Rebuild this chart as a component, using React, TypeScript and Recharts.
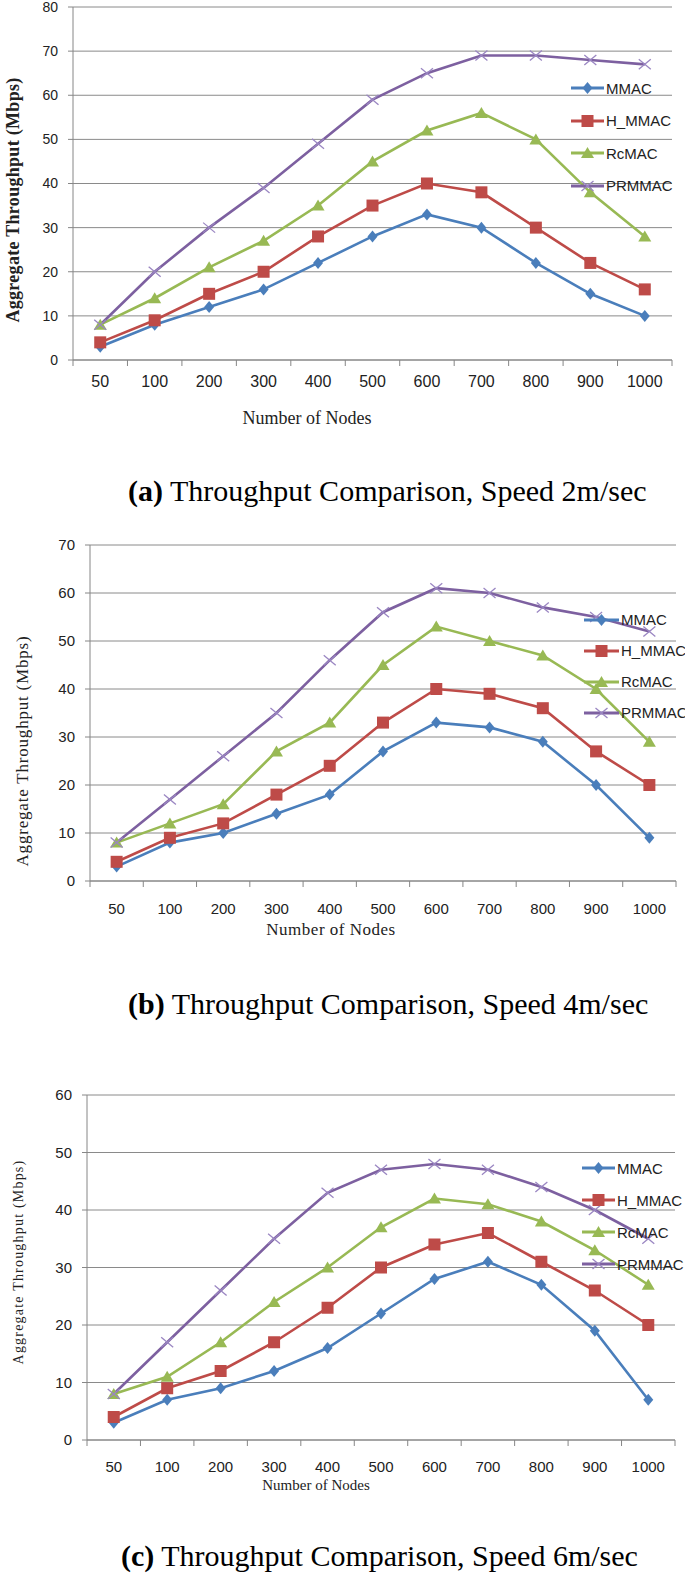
import React from 'react';
import { LineChart, Line, XAxis, YAxis, CartesianGrid } from 'recharts';

const NODES = ['50', '100', '200', '300', '400', '500', '600', '700', '800', '900', '1000'];
const SERIES = ['MMAC', 'H_MMAC', 'RcMAC', 'PRMMAC'];
const COLORS = ['#4A7EBB', '#BE4B48', '#98B954', '#7D60A0'];
const SHAPES = ['diamond', 'square', 'triangle', 'cross'];

// (a) speed 2 m/sec
const A_MMAC = [3, 8, 12, 16, 22, 28, 33, 30, 22, 15, 10];
const A_HMMAC = [4, 9, 15, 20, 28, 35, 40, 38, 30, 22, 16];
const A_RCMAC = [8, 14, 21, 27, 35, 45, 52, 56, 50, 38, 28];
const A_PRMMAC = [8, 20, 30, 39, 49, 59, 65, 69, 69, 68, 67];

// (b) speed 4 m/sec
const B_MMAC = [3, 8, 10, 14, 18, 27, 33, 32, 29, 20, 9];
const B_HMMAC = [4, 9, 12, 18, 24, 33, 40, 39, 36, 27, 20];
const B_RCMAC = [8, 12, 16, 27, 33, 45, 53, 50, 47, 40, 29];
const B_PRMMAC = [8, 17, 26, 35, 46, 56, 61, 60, 57, 55, 52];

// (c) speed 6 m/sec
const C_MMAC = [3, 7, 9, 12, 16, 22, 28, 31, 27, 19, 7];
const C_HMMAC = [4, 9, 12, 17, 23, 30, 34, 36, 31, 26, 20];
const C_RCMAC = [8, 11, 17, 24, 30, 37, 42, 41, 38, 33, 27];
const C_PRMMAC = [8, 17, 26, 35, 43, 47, 48, 47, 44, 40, 35];

const Y_TICKS_A = [0, 10, 20, 30, 40, 50, 60, 70, 80];
const Y_TICKS_B = [0, 10, 20, 30, 40, 50, 60, 70];
const Y_TICKS_C = [0, 10, 20, 30, 40, 50, 60];

const SANS = '"Liberation Sans", Arial, sans-serif';
const SERIF = '"Liberation Serif", "Times New Roman", serif';
const AXIS = '#868686';
const GRID = '#8a8a8a';

// category boundaries get tick marks, category centres get labels
const X_TICKS = NODES.flatMap((_, i) => [i, i + 0.5]).concat(NODES.length);

function buildRows(values: number[][]) {
  return NODES.map((node, i) => {
    const row: Record<string, number | string> = { pos: i + 0.5, node };
    SERIES.forEach((s, k) => {
      row[s] = values[k][i];
    });
    return row;
  });
}

function Marker({ shape, cx, cy, color }: { shape: string; cx: number; cy: number; color: string }) {
  if (shape === 'diamond')
    return <polygon points={`${cx},${cy - 6} ${cx + 5},${cy} ${cx},${cy + 6} ${cx - 5},${cy}`} fill={color} />;
  if (shape === 'square') return <rect x={cx - 6} y={cy - 6} width={12} height={12} fill={color} />;
  if (shape === 'triangle')
    return <polygon points={`${cx},${cy - 6} ${cx + 6.5},${cy + 5} ${cx - 6.5},${cy + 5}`} fill={color} />;
  return (
    <g stroke="#9a86c2" strokeWidth={1.3}>
      <line x1={cx - 6} y1={cy - 5} x2={cx + 6} y2={cy + 5} />
      <line x1={cx - 6} y1={cy + 5} x2={cx + 6} y2={cy - 5} />
    </g>
  );
}

function NodeTick(props: any) {
  const { x, y, payload, gap, fs } = props;
  const v = payload.value;
  if (Number.isInteger(v)) return <line x1={x} y1={y} x2={x} y2={y + 6} stroke={AXIS} />;
  return (
    <text x={x} y={y + gap} textAnchor="middle" dominantBaseline="central" fontSize={fs} fontFamily={SANS} fill="#222">
      {NODES[Math.floor(v)]}
    </text>
  );
}

function LegendBox({ top, left, lineW, rowH }: { top: number; left: number; lineW: number; rowH: number }) {
  return (
    <div style={{ position: 'absolute', top, left }}>
      {SERIES.map((s, k) => (
        <div key={s} style={{ display: 'flex', alignItems: 'center', height: rowH }}>
          <svg width={lineW} height={16} style={{ display: 'block' }}>
            <line x1={0} y1={8} x2={lineW} y2={8} stroke={COLORS[k]} strokeWidth={3} />
            <Marker shape={SHAPES[k]} cx={lineW / 2} cy={8} color={COLORS[k]} />
          </svg>
          <span style={{ fontFamily: SANS, fontSize: 15, color: '#222', marginLeft: 2 }}>{s}</span>
        </div>
      ))}
    </div>
  );
}

interface PanelProps {
  top: number;
  height: number;
  rows: Record<string, number | string>[];
  yMax: number;
  yTicks: number[];
  margin: { top: number; right: number; bottom: number; left: number };
  yWidth: number;
  xHeight: number;
  yFont: number;
  xFont: number;
  xGap: number;
  yTitle: { x: number; y: number; size: number; bold?: boolean; spacing: number };
  xTitle: { x: number; y: number; size: number; spacing: number };
  legend: { top: number; left: number; lineW: number; rowH: number };
}

function Panel(p: PanelProps) {
  return (
    <div style={{ position: 'absolute', top: p.top, left: 0, width: 685, height: p.height }}>
      <LineChart width={685} height={p.height} data={p.rows} margin={p.margin}>
        <CartesianGrid vertical={false} stroke={GRID} />
        <XAxis
          type="number"
          dataKey="pos"
          domain={[0, NODES.length]}
          ticks={X_TICKS}
          interval={0}
          height={p.xHeight}
          tickSize={0}
          tickMargin={0}
          tickLine={false}
          axisLine={{ stroke: AXIS }}
          tick={(t: any) => <NodeTick {...t} gap={p.xGap} fs={p.xFont} />}
          label={{
            content: () => (
              <text
                x={p.xTitle.x}
                y={p.xTitle.y}
                textAnchor="middle"
                dominantBaseline="central"
                fontFamily={SERIF}
                fontSize={p.xTitle.size}
                letterSpacing={p.xTitle.spacing}
                fill="#222"
              >
                Number of Nodes
              </text>
            ),
          }}
        />
        <YAxis
          domain={[0, p.yMax]}
          ticks={p.yTicks}
          interval={0}
          width={p.yWidth}
          tickSize={5}
          tickMargin={10}
          axisLine={{ stroke: AXIS }}
          tickLine={{ stroke: AXIS }}
          tick={{ fill: '#222', fontSize: p.yFont, fontFamily: SANS }}
          label={{
            content: () => (
              <text
                x={p.yTitle.x}
                y={p.yTitle.y}
                transform={`rotate(-90 ${p.yTitle.x} ${p.yTitle.y})`}
                textAnchor="middle"
                dominantBaseline="central"
                fontFamily={SERIF}
                fontWeight={p.yTitle.bold ? 'bold' : 'normal'}
                fontSize={p.yTitle.size}
                letterSpacing={p.yTitle.spacing}
                fill="#222"
              >
                Aggregate Throughput (Mbps)
              </text>
            ),
          }}
        />
        {SERIES.map((s, k) => (
          <Line
            key={s}
            dataKey={s}
            stroke={COLORS[k]}
            strokeWidth={2.6}
            isAnimationActive={false}
            dot={(d: any) => <Marker key={d.index} shape={SHAPES[k]} cx={d.cx} cy={d.cy} color={COLORS[k]} />}
            activeDot={false}
          />
        ))}
      </LineChart>
      <LegendBox {...p.legend} />
    </div>
  );
}

function Caption({ top, left, letter, text }: { top: number; left: number; letter: string; text: string }) {
  return (
    <div
      style={{
        position: 'absolute',
        top,
        left,
        fontFamily: SERIF,
        fontSize: 30,
        lineHeight: '34px',
        whiteSpace: 'nowrap',
        color: '#000',
      }}
    >
      <b>({letter})</b> {text}
    </div>
  );
}

export default function App() {
  return (
    <div style={{ position: 'absolute', top: 0, left: 0, width: 685, height: 1579, background: '#fff' }}>
      <Panel
        top={0}
        height={440}
        rows={buildRows([A_MMAC, A_HMMAC, A_RCMAC, A_PRMMAC])}
        yMax={80}
        yTicks={Y_TICKS_A}
        margin={{ top: 7, right: 13, bottom: 10, left: 0 }}
        yWidth={73}
        xHeight={70}
        yFont={14}
        xFont={16}
        xGap={21}
        yTitle={{ x: 13, y: 200, size: 18, bold: true, spacing: 0.3 }}
        xTitle={{ x: 307, y: 418, size: 18, spacing: 0 }}
        legend={{ top: 72, left: 571, lineW: 33, rowH: 32.5 }}
      />
      <Caption top={474} left={128} letter="a" text="Throughput Comparison, Speed 2m/sec" />
      <Panel
        top={520}
        height={430}
        rows={buildRows([B_MMAC, B_HMMAC, B_RCMAC, B_PRMMAC])}
        yMax={70}
        yTicks={Y_TICKS_B}
        margin={{ top: 25, right: 9, bottom: 9, left: 0 }}
        yWidth={90}
        xHeight={60}
        yFont={15}
        xFont={15}
        xGap={27}
        yTitle={{ x: 22, y: 231, size: 17, spacing: 0.8 }}
        xTitle={{ x: 331, y: 409, size: 17, spacing: 0.5 }}
        legend={{ top: 84, left: 584, lineW: 35, rowH: 31 }}
      />
      <Caption top={987} left={128} letter="b" text="Throughput Comparison, Speed 4m/sec" />
      <Panel
        top={1040}
        height={465}
        rows={buildRows([C_MMAC, C_HMMAC, C_RCMAC, C_PRMMAC])}
        yMax={60}
        yTicks={Y_TICKS_C}
        margin={{ top: 55, right: 10, bottom: 5, left: 0 }}
        yWidth={87}
        xHeight={60}
        yFont={15}
        xFont={15}
        xGap={26}
        yTitle={{ x: 18, y: 222, size: 14, spacing: 1.2 }}
        xTitle={{ x: 316, y: 445, size: 15, spacing: 0 }}
        legend={{ top: 112, left: 582, lineW: 33, rowH: 32 }}
      />
      <Caption top={1539} left={121} letter="c" text="Throughput Comparison, Speed 6m/sec" />
    </div>
  );
}
